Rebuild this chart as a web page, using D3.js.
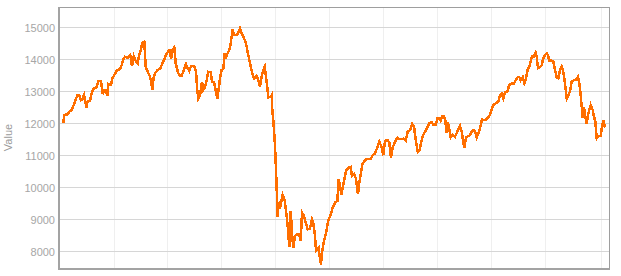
<!DOCTYPE html>
<html>
<head>
<meta charset="utf-8">
<script src="https://cdn.jsdelivr.net/npm/d3@7"></script>
<style>
  body { margin: 0; background: #fff; }
  svg { display: block; }
  .tick-label { font-family: "Liberation Sans", Arial, sans-serif; font-size: 11px; fill: #a6a6a6; }
  .axis-title { font-family: "Liberation Sans", Arial, sans-serif; font-size: 11px; fill: #9a9a9a; }
</style>
</head>
<body>
<svg id="chart" width="621" height="276"></svg>
<script>
// trading day index and closing value
const days = [
  4.3, 5.3, 8.7, 10, 12.7, 14.3, 16, 18.3, 20.3, 22, 23.3, 25, 26, 27.3, 28.7, 31, 32.7, 34.7, 37.3, 39.3,
  42, 43.7, 45.3, 46.7, 48.3, 49.3, 52, 53.3, 55.3, 57.7, 61, 62.7, 64.3, 66, 69.3, 71.3, 73, 74.7, 76.7, 78.7,
  80, 81.7, 83.3, 85.3, 86.7, 88.7, 90.7, 92, 93.3, 94.7, 96, 98.7, 101, 102.7, 105.3, 107.7, 110, 111, 112, 113.3,
  115.3, 116.7, 119.3, 121, 122.7, 125.3, 127, 128.7, 130.3, 132, 134, 135.7, 137, 138.3, 139.3, 141, 143, 144.3, 146, 147.7,
  149.3, 151.7, 153, 155, 157, 158.3, 160, 161, 162.7, 164.3, 165.7, 167, 168.7, 170.3, 171.7, 173.7, 175, 177.7, 179.3, 181,
  182.7, 185, 187, 188.3, 190.3, 191.7, 193.7, 195.3, 197.7, 199.3, 201, 202.7, 204.3, 205.7, 207, 208.3, 209.3, 211.7, 212.7, 213,
  214.3, 215.7, 216.7, 217.7, 218.3, 219.7, 221, 222.3, 223.7, 225.7, 227.7, 229, 230.3, 231.7, 233, 234.3, 236, 237.7, 240.3, 241.7,
  243, 245, 247, 248.7, 251, 253, 254.3, 256, 257, 259.7, 261, 262, 263, 265, 267, 269.3, 271.7, 273.7, 276, 278.3,
  279.7, 281, 282.3, 283.7, 285, 287, 289.3, 291.7, 293, 295, 297, 299, 300.3, 302, 303.3, 306, 307.7, 311.7, 313.7, 316,
  318.3, 320.3, 322.3, 324.3, 326, 328.3, 330.3, 332, 333.7, 336, 338.3, 341, 344.3, 346.7, 348.7, 351.3, 353.3, 355, 356.7, 358.7,
  360.5, 362.7, 364.3, 367, 370.3, 372.7, 374.3, 377, 378.3, 380, 381.7, 383, 385, 386.3, 387.7, 389, 390.3, 391.7, 393.7, 396,
  397.7, 399.3, 401, 402.7, 403.7, 405.3, 407, 409.3, 411, 412.7, 414.3, 416, 417.7, 419.3, 421, 423, 425, 427.7, 430.3, 432.7,
  434.3, 437, 439.3, 441, 442.7, 444.3, 446, 448.3, 450.3, 452.7, 455, 457, 458.7, 460.3, 461.7, 463.7, 465.3, 467, 468.7, 470.3,
  472, 473.3, 475, 476.7, 477.7, 479, 481, 482.7, 484.3, 486, 487.7, 489, 490.3, 492.7, 494.3, 496, 497.7, 499.3, 501, 502.7,
  504.3, 506, 507.7, 509.3, 511, 512.7, 515, 517, 519, 520.3, 521.7, 522.7, 523.7, 525, 526.3, 527.7, 529.3, 531.7, 533.7, 535,
  536.3, 537.7, 539.3, 541.7, 543, 544.3, 546
];

const values = [
  12020, 12260, 12280, 12350, 12420, 12540, 12680, 12870, 12870, 12730, 12750, 12880, 12730, 12500, 12680, 12710, 12940, 13090, 13100, 13320,
  13320, 12910, 13040, 13040, 12850, 13230, 13200, 13400, 13510, 13640, 13700, 13820, 14000, 14080, 14050, 14130, 13790, 14100, 13950, 13880,
  14130, 14290, 14520, 14550, 13770, 13610, 13480, 13350, 13060, 13430, 13560, 13670, 13700, 13820, 14000, 14190, 14270, 14270, 14000, 14290,
  14370, 13870, 13560, 13480, 13480, 13720, 13850, 13720, 13640, 13790, 13790, 13770, 13610, 13040, 12780, 12880, 13300, 13040, 13140, 13350,
  13610, 13590, 13300, 13280, 12990, 12780, 13140, 13400, 13670, 13700, 14190, 14080, 14190, 14290, 14500, 14940, 14760, 14760, 14830, 14970,
  14810, 14660, 14500, 14290, 13980, 13770, 13510, 13400, 13480, 13350, 13140, 13460, 13670, 13770, 13440, 13140, 12810, 12830, 12880, 12520,
  12100, 11480, 10800, 9970, 9080, 9550, 9340, 9550, 9760, 9600, 9080, 8670, 8150, 9260, 8580, 8110, 8480, 8530, 8530, 8320,
  9210, 9100, 8870, 8690, 8710, 9000, 8880, 8480, 8010, 8110, 7750, 7590, 7960, 8320, 8580, 8950, 9160, 9360, 9520, 9570,
  10250, 10040, 9780, 9990, 10200, 10510, 10610, 10640, 10350, 10410, 10270, 9780, 10140, 10460, 10720, 10850, 10890, 10890, 11000, 11060,
  11240, 11420, 11290, 11000, 11450, 11480, 11400, 10920, 11240, 11420, 11550, 11500, 11520, 11460, 11740, 11790, 11980, 11900, 11480, 11110,
  11170, 11480, 11640, 11790, 12000, 12030, 11950, 11960, 12160, 12150, 12080, 12230, 12230, 12100, 11690, 12020, 11800, 11560, 11640, 11580,
  11690, 11810, 11920, 11740, 11530, 11220, 11560, 11600, 11630, 11740, 11790, 11740, 11560, 11690, 11840, 12120, 12100, 12130, 12230, 12420,
  12570, 12630, 12680, 12880, 12940, 12780, 12960, 12990, 13200, 13250, 13240, 13370, 13440, 13440, 13350, 13440, 13250, 13400, 13690, 13770,
  13980, 14100, 14090, 14210, 14080, 13720, 13750, 13820, 14030, 14130, 14190, 14130, 13960, 13960, 13930, 13670, 13440, 13400, 13670, 13770,
  13610, 13250, 12780, 12880, 12990, 13300, 13350, 13370, 13460, 13250, 12880, 12520, 12160, 12520, 12210, 12000, 12310, 12570, 12420, 12210,
  12050, 11530, 11600, 11600, 11890, 12100, 11870
];

const yTicks = [8000, 9000, 10000, 11000, 12000, 13000, 14000, 15000];
const xGridDays = [55, 108, 162, 216, 270, 324, 378, 432, 486, 542];

const svg = d3.select("#chart");
const margin = { top: 7, right: 12, bottom: 8, left: 59 };
const width = Number(svg.attr("width")) - margin.left - margin.right;
const height = Number(svg.attr("height")) - margin.top - margin.bottom;

const x = d3.scaleLinear().domain([0, 550]).range([0, width]);
const y = d3.scaleLinear().domain([7455, 15636]).range([height + 0.7, 0]);

const g = svg.append("g").attr("transform", `translate(${margin.left},${margin.top})`);

// vertical grid
g.append("g")
  .selectAll("line")
  .data(xGridDays)
  .join("line")
  .attr("x1", (d) => Math.round(x(d)) + 0.5)
  .attr("x2", (d) => Math.round(x(d)) + 0.5)
  .attr("y1", 0)
  .attr("y2", height)
  .attr("stroke", "#efefef")
  .attr("shape-rendering", "crispEdges");

// horizontal grid
g.append("g")
  .selectAll("line")
  .data(yTicks)
  .join("line")
  .attr("x1", 0)
  .attr("x2", width)
  .attr("y1", (d) => Math.round(y(d)) + 0.5)
  .attr("y2", (d) => Math.round(y(d)) + 0.5)
  .attr("stroke", "#d6d6d6")
  .attr("shape-rendering", "crispEdges");

// y tick labels
g.append("g")
  .selectAll("text")
  .data(yTicks)
  .join("text")
  .attr("class", "tick-label")
  .attr("x", -4)
  .attr("y", (d) => Math.round(y(d)) + 4.5)
  .attr("text-anchor", "end")
  .text((d) => d);

// frame: thin top/right, heavy left/bottom
g.append("rect")
  .attr("x", 0.5)
  .attr("y", 0.5)
  .attr("width", width)
  .attr("height", height)
  .attr("fill", "none")
  .attr("stroke", "#9e9e9e")
  .attr("shape-rendering", "crispEdges");

g.append("line")
  .attr("x1", 0).attr("x2", 0)
  .attr("y1", 0).attr("y2", height + 2)
  .attr("stroke", "#a3a3a3")
  .attr("stroke-width", 2)
  .attr("shape-rendering", "crispEdges");

g.append("line")
  .attr("x1", -1).attr("x2", width + 1)
  .attr("y1", height + 1).attr("y2", height + 1)
  .attr("stroke", "#a3a3a3")
  .attr("stroke-width", 2)
  .attr("shape-rendering", "crispEdges");

// series
const line = d3.line()
  .x((d, i) => x(days[i]))
  .y((d) => y(d));

g.append("path")
  .datum(values)
  .attr("fill", "none")
  .attr("stroke", "#ff6e00")
  .attr("stroke-width", 2.5)
  .attr("stroke-linejoin", "miter")
  .attr("shape-rendering", "crispEdges")
  .attr("d", line);

svg.append("text")
  .attr("class", "axis-title")
  .attr("transform", `translate(12,${margin.top + height / 2}) rotate(-90)`)
  .attr("text-anchor", "middle")
  .text("Value");
</script>
</body>
</html>
